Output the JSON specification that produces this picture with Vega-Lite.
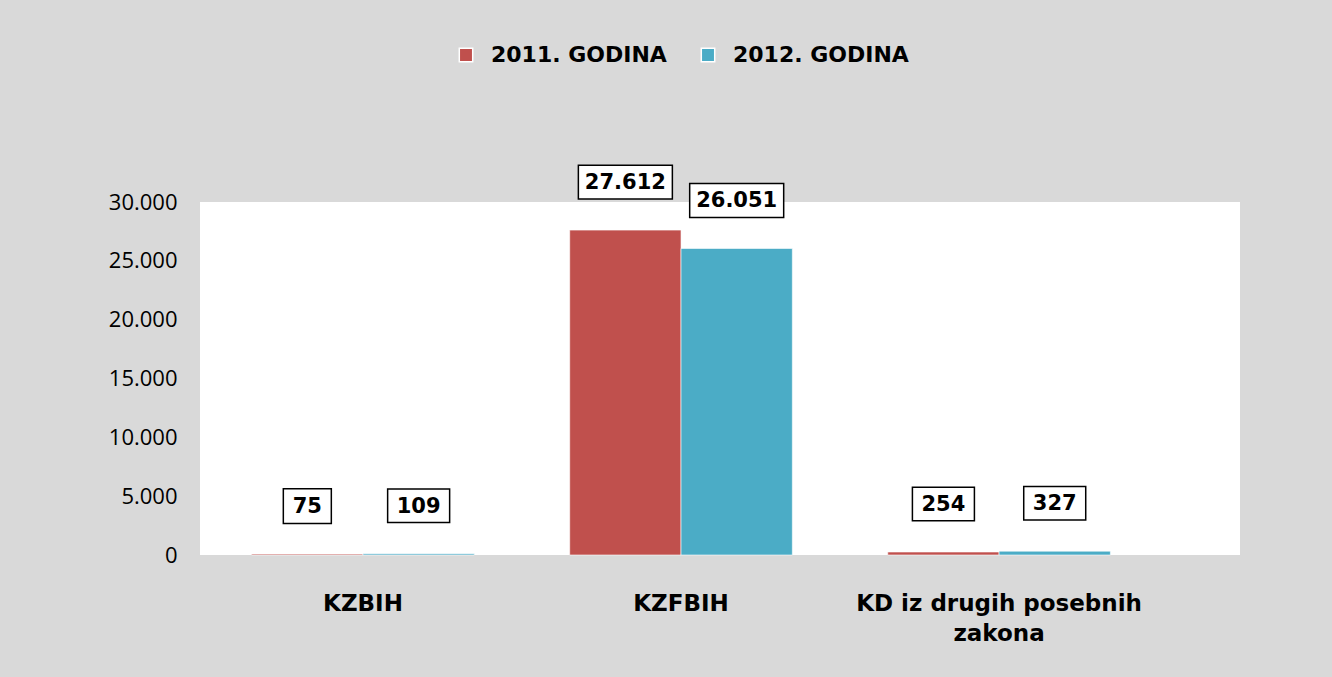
{
  "$schema": "https://vega.github.io/schema/vega-lite/v6.json",
  "autosize": "none",
  "width": 1040,
  "height": 353,
  "padding": {"left": 200, "top": 202, "right": 92, "bottom": 122},
  "background": "#d9d9d9",
  "config": {
    "locale": {"number": {"decimal": ",", "thousands": ".", "grouping": [3], "currency": ["", ""]}},
    "view": {"fill": "#ffffff", "stroke": null},
    "font": "DejaVu Sans"
  },
  "data": {
    "values": [
      {"kategorija": "KZBIH", "godina": "2011. GODINA", "broj": 75},
      {"kategorija": "KZBIH", "godina": "2012. GODINA", "broj": 109},
      {"kategorija": "KZFBIH", "godina": "2011. GODINA", "broj": 27612},
      {"kategorija": "KZFBIH", "godina": "2012. GODINA", "broj": 26051},
      {"kategorija": "KD iz drugih posebnih zakona", "godina": "2011. GODINA", "broj": 254},
      {"kategorija": "KD iz drugih posebnih zakona", "godina": "2012. GODINA", "broj": 327}
    ]
  },
  "transform": [
    {"calculate": "format(datum.broj, ',d')", "as": "oznaka"},
    {"calculate": "length(datum.oznaka)", "as": "duljina"}
  ],
  "encoding": {
    "x": {
      "field": "kategorija", "type": "nominal", "sort": null,
      "scale": {"paddingInner": 0.3, "paddingOuter": 0.285, "align": 0.285},
      "axis": {
        "title": null, "domain": false, "ticks": false, "labelAngle": 0,
        "labelFont": "DejaVu Sans", "labelFontWeight": "bold", "labelFontSize": 23,
        "labelColor": "#000000", "labelPadding": 37, "labelLineHeight": 30, "labelLimit": 400,
        "labelExpr": "datum.label == 'KD iz drugih posebnih zakona' ? ['KD iz drugih posebnih', 'zakona'] : datum.label"
      }
    },
    "xOffset": {"field": "godina", "type": "nominal", "sort": null},
    "y": {
      "field": "broj", "type": "quantitative",
      "scale": {"domain": [0, 30000], "nice": false},
      "axis": {
        "title": null, "domain": false, "ticks": false, "grid": false,
        "values": [0, 5000, 10000, 15000, 20000, 25000, 30000],
        "format": ",d", "labelFont": "Open Sans", "labelFontSize": 22,
        "labelColor": "#000000", "labelPadding": 23
      }
    }
  },
  "layer": [
    {
      "mark": {"type": "bar", "stroke": "#ffffff", "strokeWidth": 1, "strokeOpacity": 0.6},
      "encoding": {
        "color": {
          "field": "godina", "type": "nominal", "sort": null,
          "scale": {"domain": ["2011. GODINA", "2012. GODINA"], "range": ["#C0504D", "#4BACC6"]},
          "legend": {
            "title": null, "orient": "none", "direction": "horizontal",
            "legendX": 255, "legendY": -158,
            "symbolType": "square", "symbolSize": 180, "symbolStrokeColor": "#ffffff", "symbolStrokeWidth": 1.5,
            "labelFont": "DejaVu Sans", "labelFontWeight": "bold", "labelFontSize": 22,
            "labelColor": "#000000", "labelOffset": 14, "columnPadding": 30, "labelLimit": 300
          }
        }
      }
    },
    {
      "transform": [{"filter": "datum.duljina >= 5"}],
      "mark": {"type": "point", "filled": true, "fill": "#ffffff", "stroke": "#000000", "strokeWidth": 1.5, "opacity": 1,
        "shape": "M-1,-0.36H1V0.36H-1Z", "size": 8836, "yOffset": -48}
    },
    {
      "transform": [{"filter": "datum.duljina == 3"}],
      "mark": {"type": "point", "filled": true, "fill": "#ffffff", "stroke": "#000000", "strokeWidth": 1.5, "opacity": 1,
        "shape": "M-1,-0.54H1V0.54H-1Z", "size": 3844, "yOffset": -48}
    },
    {
      "transform": [{"filter": "datum.duljina <= 2"}],
      "mark": {"type": "point", "filled": true, "fill": "#ffffff", "stroke": "#000000", "strokeWidth": 1.5, "opacity": 1,
        "shape": "M-1,-0.72H1V0.72H-1Z", "size": 2304, "yOffset": -48}
    },
    {
      "mark": {"type": "text", "dy": -47, "baseline": "middle", "font": "DejaVu Sans", "fontWeight": "bold", "fontSize": 21, "color": "#000000"},
      "encoding": {"text": {"field": "oznaka", "type": "nominal"}}
    }
  ]
}
